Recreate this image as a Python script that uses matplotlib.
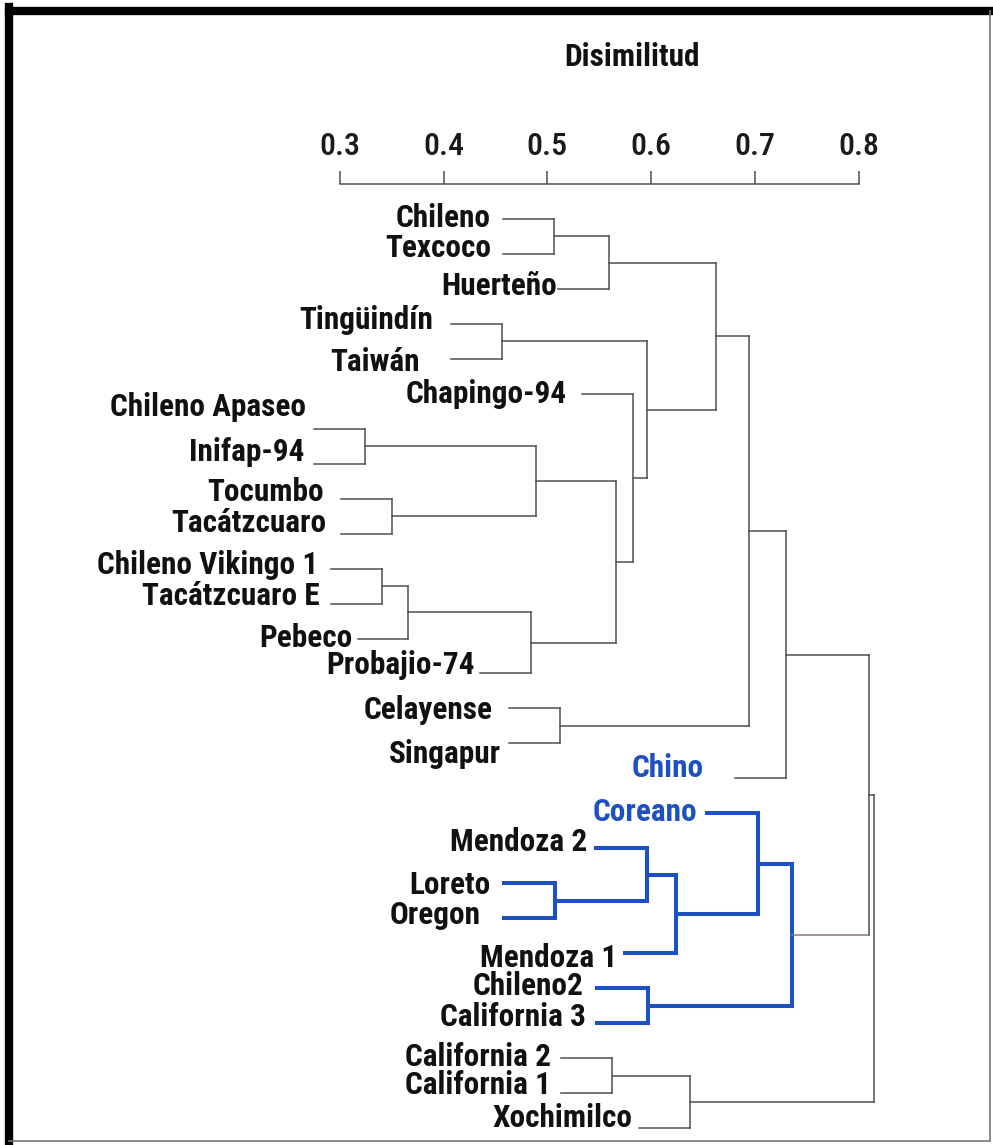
import matplotlib
matplotlib.use("Agg")
import matplotlib.pyplot as plt
from matplotlib.lines import Line2D

plt.rcParams['font.family'] = ['Roboto Condensed', 'DejaVu Sans']

# hojas en el orden del dendrograma (de arriba hacia abajo)
hojas = ["Chileno", "Texcoco", "Huerteño", "Tingüindín", "Taiwán", "Chapingo-94",
         "Chileno Apaseo", "Inifap-94", "Tocumbo", "Tacátzcuaro",
         "Chileno Vikingo 1", "Tacátzcuaro E", "Pebeco", "Probajio-74",
         "Celayense", "Singapur", "Chino", "Coreano", "Mendoza 2", "Loreto",
         "Oregon", "Mendoza 1", "Chileno2", "California 3", "California 2",
         "California 1", "Xochimilco"]

# uniones: (izquierda, derecha, disimilitud); enteros = unión previa
uniones = [
    ("Chileno", "Texcoco", 0.506),            # 0
    (0, "Huerteño", 0.559),                   # 1
    ("Tingüindín", "Taiwán", 0.456),          # 2
    ("Chileno Apaseo", "Inifap-94", 0.324),   # 3
    ("Tocumbo", "Tacátzcuaro", 0.350),        # 4
    (3, 4, 0.489),                            # 5
    ("Chileno Vikingo 1", "Tacátzcuaro E", 0.3405),  # 6
    (6, "Pebeco", 0.366),                     # 7
    (7, "Probajio-74", 0.484),                # 8
    (5, 8, 0.566),                            # 9
    ("Chapingo-94", 9, 0.5825),               # 10
    (2, 10, 0.596),                           # 11
    (1, 11, 0.6626),                          # 12
    ("Celayense", "Singapur", 0.512),         # 13
    (12, 13, 0.6944),                         # 14
    (14, "Chino", 0.730),                     # 15
    ("Loreto", "Oregon", 0.507),              # 16
    ("Mendoza 2", 16, 0.596),                 # 17
    (17, "Mendoza 1", 0.624),                 # 18
    ("Coreano", 18, 0.703),                   # 19
    ("Chileno2", "California 3", 0.597),      # 20
    (19, 20, 0.736),                          # 21
    (15, 21, 0.810),                          # 22
    ("California 2", "California 1", 0.562),  # 23
    (23, "Xochimilco", 0.6375),               # 24
    (22, 24, 0.815),                          # 25
]

grupo_azul = [16, 17, 18, 19, 20, 21]
etiquetas_azules = ["Chino", "Coreano"]
ticks = [0.3, 0.4, 0.5, 0.6, 0.7, 0.8]

# ajuste fino de cada etiqueta: (separación a la línea, desplazamiento vertical) en px
ajuste = {
    "Chileno": (12, -1), "Texcoco": (12, -6), "Huerteño": (1, -3),
    "Tingüindín": (18, -4), "Taiwán": (31, 3), "Chapingo-94": (15, 0),
    "Chileno Apaseo": (8, -22), "Inifap-94": (10, -12), "Tocumbo": (17, -7),
    "Tacátzcuaro": (15, -11), "Chileno Vikingo 1": (13, -4),
    "Tacátzcuaro E": (12, -8), "Pebeco": (5, -1), "Probajio-74": (5, -8),
    "Celayense": (16, 2), "Singapur": (8, 11), "Chino": (31, -10),
    "Coreano": (10, -1), "Mendoza 2": (9, -6), "Loreto": (13, 2),
    "Oregon": (23, -3), "Mendoza 1": (8, 5), "Chileno2": (14, -2),
    "California 3": (11, -6), "California 2": (10, -1),
    "California 1": (10, -8), "Xochimilco": (7, -10),
}

W, H = 993, 1145
fig = plt.figure(figsize=(W / 100, H / 100), dpi=100)
fig.patch.set_facecolor("white")

# ejes: borde superior en y=184 px, escala 1037 px por unidad
ax = fig.add_axes([0, 0, 1, 1 - 184 / H])
x0 = 0.3 - 340 / 1037
ax.set_xlim(x0, x0 + W / 1037)
paso = 34.96
ax.set_ylim((H - 219) / paso, (184 - 219) / paso)

gris = "#505050"
azul = "#1d50c0"
stub = 0.049

pos_y = {h: i for i, h in enumerate(hojas)}
alt = {}
ny = {}


def coord(n):
    if isinstance(n, int):
        return ny[n], alt[n]
    return pos_y[n], None


for k, (a, b, h) in enumerate(uniones):
    ya, ha = coord(a)
    yb, hb = coord(b)
    alt[k] = h
    ny[k] = (ya + yb) / 2
    es_azul = k in grupo_azul
    color = azul if es_azul else gris
    lw = 2.9 if es_azul else 1.1
    ax.plot([h, h], [ya, yb], color=color, lw=lw, solid_capstyle="projecting")
    for hijo, yh, hh in ((a, ya, ha), (b, yb, hb)):
        inicio = hh if hh is not None else h - stub
        c = color
        if isinstance(hijo, int) and hijo == 21:
            c = "#8a7472"
        ax.plot([inicio, h], [yh, yh], color=c, lw=lw, solid_capstyle="projecting")
        if not isinstance(hijo, int):
            sep, dy = ajuste.get(hijo, (10, 0))
            ax.annotate(hijo, (inicio, yh), xytext=(-sep, -dy),
                        textcoords="offset pixels", ha="right", va="center",
                        fontsize=22.5, fontweight="bold",
                        color=azul if hijo in etiquetas_azules else "#111111")

# escala superior
for s in ("left", "right", "bottom"):
    ax.spines[s].set_visible(False)
ax.spines["top"].set_bounds(0.3, 0.8)
ax.spines["top"].set_color(gris)
ax.spines["top"].set_linewidth(1.1)
ax.xaxis.set_ticks_position("top")
ax.set_xticks(ticks)
ax.set_xticklabels([f"{t:.1f}" for t in ticks], fontweight="medium")
ax.tick_params(axis="x", direction="out", length=9.5, width=1.1, color=gris,
               pad=7, labelsize=23, labelcolor="#1a1a1a")
ax.set_yticks([])
ax.patch.set_visible(False)

fig.text(632 / W, 1 - 57 / H, "Disimilitud", ha="center", va="center",
         fontsize=22.5, fontweight="bold", color="#111111")

# marco
def px(x, y):
    return x / W, 1 - y / H

for (xa, ya), (xb, yb), lw, c in [((9, 11), (993, 11), 6, "black"),
                                  ((9, 7), (9, 1142), 6, "black"),
                                  ((990, 11), (990, 1141), 1.2, "#777777"),
                                  ((9, 1141), (990, 1141), 1.2, "#777777")]:
    p, q = px(xa, ya), px(xb, yb)
    fig.add_artist(Line2D([p[0], q[0]], [p[1], q[1]], transform=fig.transFigure,
                          color=c, lw=lw))

fig.savefig("out.png", dpi=100)
